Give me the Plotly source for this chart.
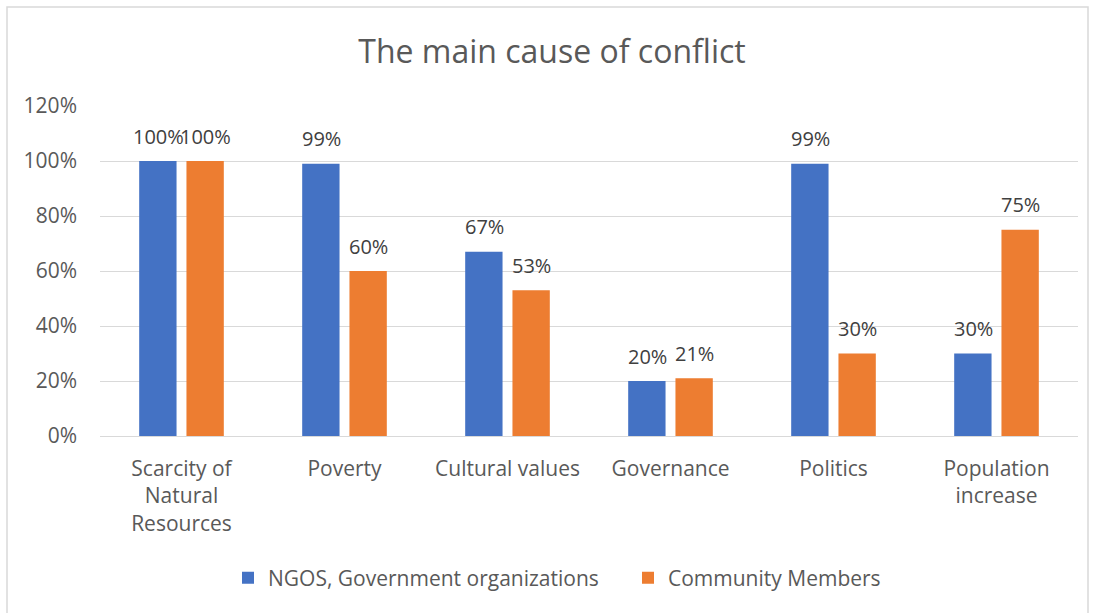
import plotly.graph_objects as go

categories = ["Scarcity of<br>Natural<br>Resources", "Poverty", "Cultural values",
              "Governance", "Politics", "Population<br>increase"]
ngos = [100, 99, 67, 20, 99, 30]
community = [100, 60, 53, 21, 30, 75]
series_names = ["NGOS, Government organizations", "Community Members"]
colors = ["#4472C4", "#ED7D31"]

FONT = "Open Sans, Liberation Sans, sans-serif"
TXT = "#595959"

W, H = 1094, 613
ml, mr, mt, mb = 100, 16, 106, 177
pw, ph = W - ml - mr, H - mt - mb


def px_to_paper_x(px):
    return (px - ml) / pw


def px_to_paper_y(py):
    return (H - mb - py) / ph


fig = go.Figure()
for name, vals, color in zip(series_names, [ngos, community], colors):
    fig.add_trace(go.Bar(
        x=categories, y=vals, name=name,
        marker=dict(color=color, line=dict(width=0)),
    ))

# value labels above each bar, offset to the bar's slot within the group
annotations = []
for vals, dx in [(ngos, -23.5), (community, 23.5)]:
    for cat, v in zip(categories, vals):
        annotations.append(dict(
            x=cat, y=v, xref="x", yref="y", text=f"{v}%", showarrow=False,
            xshift=dx, yshift=25, yanchor="middle", xanchor="center",
            font=dict(family=FONT, size=20, color="#404040"),
        ))

fig.update_layout(
    width=W, height=H,
    margin=dict(l=ml, r=mr, t=mt, b=mb, autoexpand=False),
    paper_bgcolor="white", plot_bgcolor="white",
    barmode="group", bargap=0.42, bargroupgap=0.21,
    title=dict(text="The main cause of conflict", x=552 / W, xref="container",
               xanchor="center", y=1 - 52 / H, yref="container", yanchor="middle",
               font=dict(family=FONT, size=32, color=TXT)),
    font=dict(family=FONT, color=TXT),
    showlegend=True,
    legend=dict(orientation="h", x=px_to_paper_x(228), xanchor="left",
                y=px_to_paper_y(578), yanchor="middle",
                font=dict(family=FONT, size=21, color=TXT),
                traceorder="normal", itemwidth=30,
                entrywidth=355, entrywidthmode="pixels"),
    xaxis=dict(showgrid=False, showline=False, ticks="",
               ticklabelstandoff=18,
               tickfont=dict(family=FONT, size=21, color=TXT)),
    yaxis=dict(range=[0, 120], dtick=20, ticksuffix="%",
               showgrid=True, gridcolor="#d9d9d9", gridwidth=1,
               zeroline=True, zerolinecolor="#d9d9d9", zerolinewidth=1,
               showline=False, ticks="", ticklabelstandoff=22,
               tickfont=dict(family=FONT, size=21, color=TXT)),
    annotations=annotations,
    shapes=[dict(type="rect", xref="paper", yref="paper",
                 x0=px_to_paper_x(7), x1=px_to_paper_x(1088),
                 y0=px_to_paper_y(640), y1=px_to_paper_y(7),
                 line=dict(color="#d9d9d9", width=1.5), layer="below")],
)

fig.write_html("out.html")
